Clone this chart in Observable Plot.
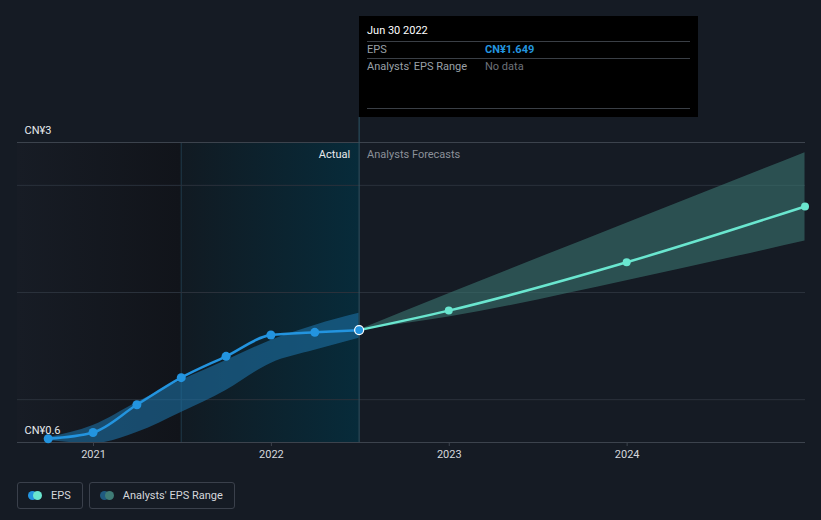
<!DOCTYPE html>
<html>
<head>
<meta charset="utf-8">
<script src="https://cdn.jsdelivr.net/npm/d3@7"></script>
<script src="https://cdn.jsdelivr.net/npm/@observablehq/plot@0.6"></script>
<style>
  html, body { margin: 0; padding: 0; background: #151b24; }
  body { width: 821px; height: 520px; overflow: hidden; font-family: Roboto, "Open Sans", sans-serif; }
  #wrap { position: relative; width: 821px; height: 520px; }
  #tip { position: absolute; left: 359px; top: 16px; width: 339px; height: 101px; background: #000; color: #fff; font-size: 11px; }
  #tip .date { position: absolute; left: 8px; top: 8px; font-size: 11px; color: #fff; }
  #tip .sep { position: absolute; left: 8px; width: 323px; height: 1px; background: #3a3f46; }
  #tip .lbl { position: absolute; left: 8px; color: #9aa0a8; font-size: 11px; }
  #tip .val { position: absolute; left: 126px; font-size: 11px; }
  #legend { position: absolute; top: 482px; left: 17px; display: flex; gap: 6px; }
  .item { box-sizing: border-box; border: 1px solid #3a404b; border-radius: 3px; height: 27px; display: flex; align-items: center; padding: 0 11px 0 10px; color: #d4d7dc; font-size: 11px; }
  .dots { position: relative; width: 14px; height: 9px; margin-right: 9px; }
  .dots span { position: absolute; top: 0; width: 9px; height: 9px; border-radius: 50%; }
</style>
</head>
<body>
<div id="wrap"></div>
<script>
const actualDates = ["2020-09-30","2020-12-31","2021-03-31","2021-06-30","2021-09-30","2021-12-31","2022-03-31","2022-06-30"];
const actualEps = [0.635, 0.693, 0.952, 1.205, 1.404, 1.603, 1.628, 1.649];
const pastRangeLow = [0.619, 0.59, 0.693, 0.880, 1.086, 1.338, 1.460, 1.572];
const pastRangeHigh = [0.647, 0.759, 0.974, 1.179, 1.366, 1.553, 1.693, 1.806];
const forecastDates = ["2022-06-30","2022-12-31","2023-12-31","2024-12-31"];
const forecastEps = [1.649, 1.831, 2.282, 2.803];
const forecastLow = [1.649, 1.771, 2.11, 2.481];
const forecastHigh = [1.649, 1.988, 2.647, 3.304];
const yearTicks = ["2021-01-01","2022-01-01","2023-01-01","2024-01-01"];
const yLabels = [{v: 3.4, t: "CN¥3"}, {v: 0.6, t: "CN¥0.6"}];
const gridValues = [1, 2, 3];

const P = d3.utcParse("%Y-%m-%d");
const actual = actualDates.map((d, i) => ({date: P(d), eps: actualEps[i], lo: pastRangeLow[i], hi: pastRangeHigh[i]}));
const forecast = forecastDates.map((d, i) => ({date: P(d), eps: forecastEps[i], lo: forecastLow[i], hi: forecastHigh[i]}));
const xStart = P("2020-07-29"), xEnd = P("2025-01-01");
const pastStart = P("2021-06-30"), nowDate = P("2022-06-30");

const chart = Plot.plot({
  width: 821,
  height: 470,
  marginLeft: 17,
  marginRight: 16,
  marginTop: 142,
  marginBottom: 28,
  style: {background: "transparent", fontFamily: "Roboto, sans-serif", fontSize: "11px", color: "#d4d7dc"},
  x: {type: "utc", domain: [xStart, xEnd], ticks: yearTicks.map(P), tickFormat: d3.utcFormat("%Y"), tickSize: 4, tickPadding: 4, label: null},
  y: {domain: [0.6, 3.4], axis: null},
  marks: [
    Plot.rect([{x1: xStart, x2: pastStart}], {x1: "x1", x2: "x2", y1: 0.6, y2: 3.4, fill: "url(#darkGrad)"}),
    Plot.rect([{x1: pastStart, x2: nowDate}], {x1: "x1", x2: "x2", y1: 0.6, y2: 3.4, fill: "url(#hiGrad)"}),
    Plot.ruleX([pastStart], {y1: 0.6, y2: 3.4, stroke: "#1e3a48", strokeWidth: 1}),
    Plot.ruleY(gridValues, {stroke: "#2a313b", strokeWidth: 1}),
    Plot.ruleY([3.4], {stroke: "#3c434d", strokeWidth: 1}),
    Plot.areaY(actual, {x: "date", y1: "lo", y2: "hi", fill: "#1d6fa3", fillOpacity: 0.6, curve: "monotone-x", clip: true}),
    Plot.areaY(forecast, {x: "date", y1: "lo", y2: "hi", fill: "#3a7570", fillOpacity: 0.6, curve: "monotone-x"}),
    Plot.ruleY([0.6], {stroke: "#3c434d", strokeWidth: 1}),
    Plot.ruleX([nowDate], {y1: 0.6, y2: 3.633, stroke: "#2d5566", strokeWidth: 1, clip: false}),
    Plot.line(actual, {x: "date", y: "eps", stroke: "#2394df", strokeWidth: 2.5, curve: "monotone-x"}),
    Plot.line(forecast, {x: "date", y: "eps", stroke: "#6ae6cf", strokeWidth: 2.5, curve: "monotone-x"}),
    Plot.dot(actual.slice(0, -1), {x: "date", y: "eps", r: 4.5, fill: "#2394df"}),
    Plot.dot(forecast.slice(1), {x: "date", y: "eps", r: 4, fill: "#6ae6cf"}),
    Plot.dot(actual.slice(-1), {x: "date", y: "eps", r: 4.5, fill: "#2394df", stroke: "#ffffff", strokeWidth: 1.2}),
    Plot.text(["Actual"], {x: nowDate, y: 3.288, text: d => d, textAnchor: "end", dx: -9, fill: "#e8eaed", fontSize: 11}),
    Plot.text(["Analysts Forecasts"], {x: nowDate, y: 3.288, text: d => d, textAnchor: "start", dx: 8, fill: "#8b9099", fontSize: 11}),
    Plot.text(yLabels, {x: xStart, y: "v", text: "t", textAnchor: "start", dx: 7, dy: -12, fill: "#e8eaed", fontSize: 11})
  ]
});

const defs = d3.select(chart).insert("defs", ":first-child");
const g1 = defs.append("linearGradient").attr("id", "darkGrad").attr("x1", "0").attr("x2", "1").attr("y1", "0").attr("y2", "0");
g1.append("stop").attr("offset", "0").attr("stop-color", "#171c25");
g1.append("stop").attr("offset", "1").attr("stop-color", "#11141a");
const g2 = defs.append("linearGradient").attr("id", "hiGrad").attr("x1", "0").attr("x2", "1").attr("y1", "0").attr("y2", "0");
g2.append("stop").attr("offset", "0").attr("stop-color", "#111a22");
g2.append("stop").attr("offset", "1").attr("stop-color", "#072b3a");

d3.select(chart).selectAll("[aria-label='x-axis tick'] path, [aria-label='x-axis tick']").attr("stroke", "#3c434d");
d3.select(chart).selectAll("[aria-label='x-axis tick label'] text, [aria-label='x-axis tick label']").attr("fill", "#d4d7dc");

const wrap = document.getElementById("wrap");
chart.style.position = "absolute";
chart.style.left = "0px";
chart.style.top = "0px";
wrap.appendChild(chart);

const tip = document.createElement("div");
tip.id = "tip";
tip.innerHTML = `
  <div class="date">Jun 30 2022</div>
  <div class="sep" style="top:25px"></div>
  <div class="lbl" style="top:27px">EPS</div>
  <div class="val" style="top:27px;color:#2394df;font-weight:bold">CN¥1.649</div>
  <div class="sep" style="top:42px"></div>
  <div class="lbl" style="top:44px">Analysts' EPS Range</div>
  <div class="val" style="top:44px;color:#6d727a">No data</div>
  <div class="sep" style="top:92px"></div>`;
wrap.appendChild(tip);

const legend = document.createElement("div");
legend.id = "legend";
legend.innerHTML = `
  <div class="item"><div class="dots"><span style="left:0;background:#2394df"></span><span style="left:5px;background:#6ae6cf"></span></div>EPS</div>
  <div class="item"><div class="dots"><span style="left:0;background:#1f5a80"></span><span style="left:5px;background:#3f7c76"></span></div>Analysts' EPS Range</div>`;
wrap.appendChild(legend);
</script>
</body>
</html>
